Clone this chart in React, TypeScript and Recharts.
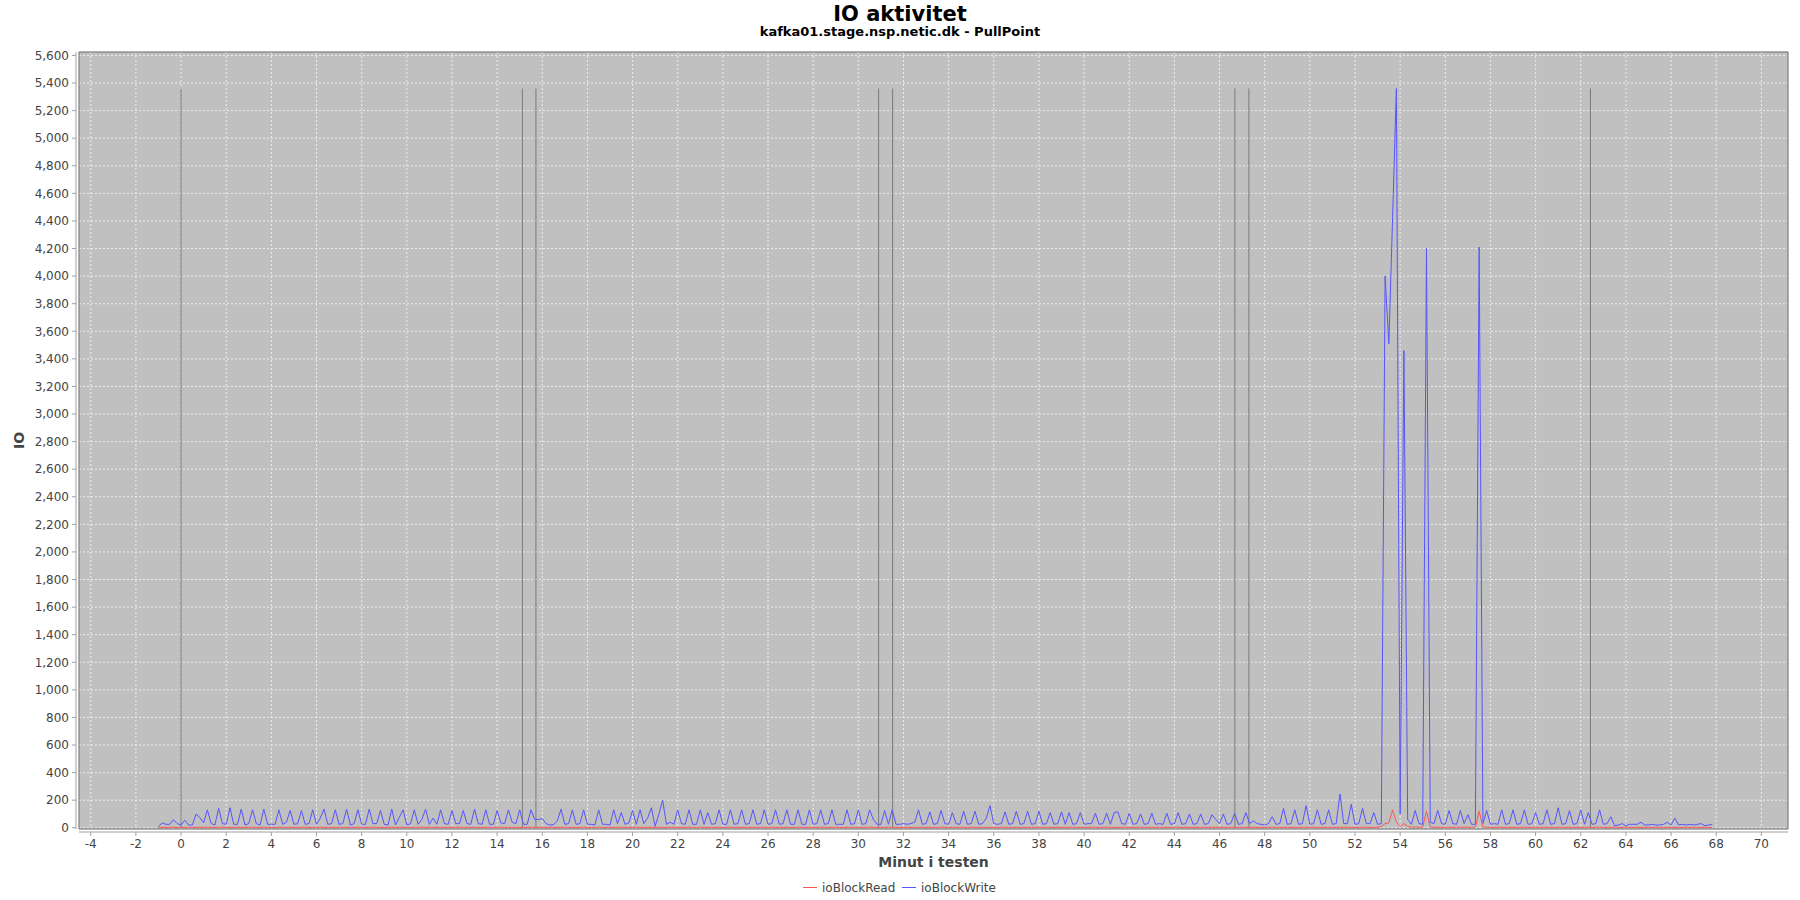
import { LineChart, Line, XAxis, YAxis, CartesianGrid, ReferenceLine, ReferenceArea } from 'recharts';

// one sample every 10 seconds, starting at minute -1
const START_MINUTE = -1;
const SAMPLES_PER_MINUTE = 6;

// ioBlockWrite, one row per minute (-1 .. 67)
const ioBlockWrite: number[] = [
  10, 35, 25, 25, 58, 30,
  20, 55, 20, 20, 100, 75,
  35, 130, 30, 20, 140, 30,
  25, 145, 25, 25, 135, 20,
  30, 130, 30, 20, 135, 25,
  25, 25, 130, 25, 40, 125,
  25, 30, 125, 25, 30, 130,
  25, 70, 135, 25, 30, 130,
  25, 30, 135, 20, 30, 130,
  25, 25, 135, 30, 30, 125,
  25, 20, 135, 20, 75, 130,
  20, 30, 130, 25, 60, 135,
  25, 70, 25, 130, 30, 25,
  125, 30, 30, 125, 30, 25,
  135, 30, 25, 130, 25, 25,
  125, 35, 30, 130, 40, 30,
  130, 25, 25, 130, 60, 60,
  65, 30, 20, 22, 50, 135,
  25, 30, 130, 25, 30, 130,
  25, 25, 20, 130, 25, 25,
  20, 130, 30, 110, 25, 35,
  125, 25, 130, 30, 70, 145,
  10, 100, 200, 25, 40, 25,
  130, 30, 25, 130, 25, 25,
  130, 25, 110, 25, 30, 130,
  25, 25, 130, 25, 30, 130,
  25, 30, 130, 25, 30, 130,
  25, 30, 130, 25, 30, 130,
  25, 25, 130, 25, 25, 130,
  25, 30, 130, 25, 30, 130,
  25, 25, 25, 130, 25, 30,
  130, 25, 30, 130, 60, 25,
  25, 125, 25, 130, 25, 25,
  30, 25, 30, 40, 130, 25,
  30, 115, 25, 30, 125, 30,
  25, 110, 30, 25, 120, 25,
  30, 120, 25, 30, 70, 160,
  30, 25, 30, 115, 25, 30,
  120, 25, 30, 120, 25, 30,
  120, 25, 30, 110, 25, 30,
  115, 25, 110, 25, 30, 110,
  25, 30, 30, 105, 25, 30,
  105, 25, 110, 115, 30, 25,
  105, 25, 30, 100, 25, 30,
  105, 25, 30, 25, 105, 25,
  30, 110, 25, 30, 100, 25,
  30, 100, 25, 30, 95, 60,
  30, 100, 25, 30, 105, 25,
  30, 110, 30, 50, 30, 25,
  20, 30, 80, 25, 30, 140,
  25, 30, 130, 25, 30, 160,
  25, 30, 130, 25, 30, 130,
  25, 30, 245, 30, 30, 170,
  25, 30, 140, 30, 30, 110,
  25, 30, 4000, 3510, 4430, 5360,
  100, 3460, 60, 25, 125, 30,
  25, 4200, 40, 30, 125, 30,
  25, 125, 30, 25, 125, 30,
  95, 25, 25, 4210, 30, 125,
  25, 30, 25, 130, 25, 30,
  130, 25, 30, 130, 25, 30,
  110, 25, 30, 130, 25, 30,
  145, 25, 30, 125, 25, 30,
  130, 25, 110, 25, 30, 130,
  25, 30, 80, 15, 20, 30,
  15, 25, 25, 25, 40, 20,
  20, 25, 20, 20, 25, 40,
  20, 70, 20, 25, 20, 25,
  20, 25, 30, 15, 20, 25,
];

// ioBlockRead, same sampling
const ioBlockRead: number[] = [
  2, 3, 2, 4, 3, 2,
  3, 2, 4, 3, 2, 3,
  2, 4, 3, 2, 3, 4,
  3, 2, 3, 4, 2, 3,
  4, 3, 2, 3, 4, 2,
  3, 2, 4, 3, 2, 3,
  2, 3, 3, 4, 2, 3,
  3, 4, 2, 3, 3, 2,
  4, 3, 2, 3, 2, 4,
  3, 2, 3, 4, 3, 2,
  2, 3, 4, 2, 3, 3,
  3, 2, 3, 3, 4, 2,
  4, 3, 2, 3, 2, 3,
  2, 3, 4, 3, 3, 2,
  3, 2, 3, 2, 4, 3,
  3, 4, 2, 3, 2, 3,
  2, 3, 3, 4, 3, 2,
  3, 2, 4, 3, 2, 3,
  4, 3, 2, 2, 3, 4,
  2, 3, 3, 4, 2, 3,
  3, 2, 4, 3, 3, 2,
  3, 4, 2, 3, 2, 3,
  2, 3, 3, 2, 4, 3,
  3, 2, 3, 4, 3, 2,
  4, 3, 2, 3, 2, 3,
  2, 3, 4, 3, 3, 2,
  3, 2, 3, 2, 4, 3,
  3, 4, 2, 3, 2, 3,
  2, 3, 3, 4, 3, 2,
  3, 2, 4, 3, 2, 3,
  4, 3, 2, 2, 3, 4,
  2, 3, 3, 4, 2, 3,
  3, 2, 4, 3, 3, 2,
  3, 4, 2, 3, 2, 3,
  2, 3, 3, 2, 4, 3,
  3, 2, 3, 4, 3, 2,
  4, 3, 2, 3, 2, 3,
  2, 3, 4, 3, 3, 2,
  3, 2, 3, 2, 4, 3,
  3, 4, 2, 3, 2, 3,
  2, 3, 3, 4, 3, 2,
  3, 2, 4, 3, 2, 3,
  4, 3, 2, 2, 3, 4,
  2, 3, 3, 4, 2, 3,
  3, 2, 4, 3, 3, 2,
  3, 4, 2, 3, 2, 3,
  2, 3, 3, 2, 4, 3,
  3, 2, 3, 4, 3, 2,
  4, 3, 2, 3, 2, 3,
  2, 3, 4, 3, 3, 2,
  3, 2, 3, 2, 4, 3,
  3, 4, 2, 3, 2, 3,
  2, 3, 3, 4, 3, 2,
  3, 2, 4, 3, 2, 3,
  3, 10, 30, 35, 130, 40,
  10, 30, 10, 3, 5, 3,
  5, 120, 5, 3, 4, 3,
  3, 4, 3, 5, 3, 4,
  4, 3, 5, 120, 5, 3,
  3, 2, 4, 3, 2, 3,
  2, 3, 3, 4, 2, 3,
  3, 2, 4, 3, 3, 2,
  3, 4, 2, 3, 2, 3,
  2, 3, 3, 2, 4, 3,
  3, 2, 3, 4, 3, 2,
  4, 3, 2, 3, 2, 3,
  2, 3, 4, 3, 3, 2,
  3, 2, 3, 2, 4, 3,
  3, 4, 2, 3, 2, 3,
];

// vertical gray markers (minute) and their height
const markerMinutes = [0, 15.12, 15.72, 30.9, 31.52, 46.68, 47.3, 62.43];
const markerTop = 5360;

const xTicks = [-4, -2, 0, 2, 4, 6, 8, 10, 12, 14, 16, 18, 20, 22, 24, 26, 28, 30, 32, 34,
  36, 38, 40, 42, 44, 46, 48, 50, 52, 54, 56, 58, 60, 62, 64, 66, 68, 70];
const yTicks = [0, 200, 400, 600, 800, 1000, 1200, 1400, 1600, 1800, 2000, 2200, 2400, 2600,
  2800, 3000, 3200, 3400, 3600, 3800, 4000, 4200, 4400, 4600, 4800, 5000, 5200, 5400, 5600];

const X_DOMAIN: [number, number] = [-4.52, 71.18];
const Y_DOMAIN: [number, number] = [-9, 5625];

const FONT = '"DejaVu Sans", Verdana, sans-serif';
const PLOT = { left: 79, right: 1788, top: 52, bottom: 829 };

const data = ioBlockWrite.map((w, i) => ({
  minute: START_MINUTE + i / SAMPLES_PER_MINUTE,
  ioBlockRead: ioBlockRead[i],
  ioBlockWrite: w,
}));

// axis lines sit 3px outside the plot, like the original
const yPerPx = (Y_DOMAIN[1] - Y_DOMAIN[0]) / (PLOT.bottom - PLOT.top);
const xPerPx = (X_DOMAIN[1] - X_DOMAIN[0]) / (PLOT.right - PLOT.left);
const xAxisLineValue = Y_DOMAIN[0] - 3 * yPerPx;
const yAxisLineValue = X_DOMAIN[0] - 3 * xPerPx;

const XTick = ({ x, y, payload }: any) => (
  <g>
    <line x1={x} x2={x} y1={y + 3} y2={y + 7} stroke="#a0a0a0" />
    <text x={x} y={y + 19} textAnchor="middle" fill="#444" fontSize={12} fontFamily={FONT}>
      {payload.value}
    </text>
  </g>
);

const YTick = ({ x, y, payload }: any) => (
  <g>
    <line x1={x - 7} x2={x - 3} y1={y} y2={y} stroke="#a0a0a0" />
    <text x={x - 10} y={y + 4.3} textAnchor="end" fill="#444" fontSize={12} fontFamily={FONT}>
      {Number(payload.value).toLocaleString('en-US')}
    </text>
  </g>
);

export default function App() {
  return (
    <div style={{ position: 'absolute', left: 0, top: 0, width: 1800, height: 900, background: '#fff' }}>
      <LineChart
        width={1800}
        height={900}
        data={data}
        margin={{ top: PLOT.top, right: 1800 - PLOT.right, left: PLOT.left - 60, bottom: 900 - PLOT.bottom - 40 }}
      >
        <CartesianGrid fill="#c0c0c0" stroke="#ececec" strokeDasharray="2 2" />
        <XAxis
          dataKey="minute"
          type="number"
          domain={X_DOMAIN}
          ticks={xTicks}
          interval={0}
          allowDataOverflow
          height={40}
          axisLine={false}
          tickLine={false}
          tickSize={0}
          tickMargin={0}
          tick={<XTick />}
        />
        <YAxis
          type="number"
          domain={Y_DOMAIN}
          ticks={yTicks}
          interval={0}
          allowDataOverflow
          width={60}
          axisLine={false}
          tickLine={false}
          tickSize={0}
          tickMargin={0}
          tick={<YTick />}
        />
        {markerMinutes.map((m) => (
          <ReferenceLine
            key={m}
            segment={[{ x: m, y: 0 }, { x: m, y: markerTop }]}
            stroke="#7a7a7a"
            strokeWidth={1}
          />
        ))}
        <Line
          type="linear"
          dataKey="ioBlockWrite"
          stroke="#5555ff"
          strokeWidth={1}
          dot={false}
          isAnimationActive={false}
        />
        <Line
          type="linear"
          dataKey="ioBlockRead"
          stroke="#ff5555"
          strokeWidth={1}
          dot={false}
          isAnimationActive={false}
        />
        <ReferenceArea
          x1={X_DOMAIN[0]}
          x2={X_DOMAIN[1]}
          y1={Y_DOMAIN[0]}
          y2={Y_DOMAIN[1]}
          fill="none"
          stroke="#666"
          strokeWidth={1}
          ifOverflow="visible"
        />
        <ReferenceLine y={xAxisLineValue} stroke="#a0a0a0" ifOverflow="visible" />
        <ReferenceLine x={yAxisLineValue} stroke="#a0a0a0" ifOverflow="visible" />
      </LineChart>

      <svg
        width={1800}
        height={900}
        style={{ position: 'absolute', left: 0, top: 0, pointerEvents: 'none' }}
        fontFamily={FONT}
      >
        <text x={900} y={21} textAnchor="middle" fontSize={21} fontWeight="bold" fill="#000">
          IO aktivitet
        </text>
        <text x={900} y={36} textAnchor="middle" fontSize={13} fontWeight="bold" fill="#000">
          kafka01.stage.nsp.netic.dk - PullPoint
        </text>
        <text
          x={0}
          y={0}
          transform={`translate(24, ${(PLOT.top + PLOT.bottom) / 2}) rotate(-90)`}
          textAnchor="middle"
          fontSize={14}
          fontWeight="bold"
          fill="#444"
        >
          IO
        </text>
        <text x={(PLOT.left + PLOT.right) / 2} y={867} textAnchor="middle" fontSize={14} fontWeight="bold" fill="#444">
          Minut i testen
        </text>
        <line x1={803} x2={817} y1={887.5} y2={887.5} stroke="#ff5555" strokeWidth={1} />
        <text x={822} y={892} fontSize={12} fill="#444">ioBlockRead</text>
        <line x1={902} x2={916} y1={887.5} y2={887.5} stroke="#5555ff" strokeWidth={1} />
        <text x={921} y={892} fontSize={12} fill="#444">ioBlockWrite</text>
      </svg>
    </div>
  );
}
